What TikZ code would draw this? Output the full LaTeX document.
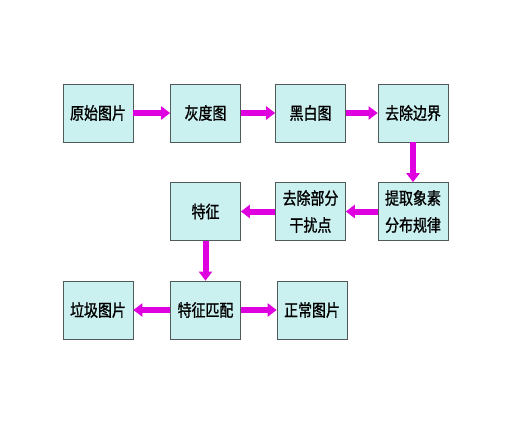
\documentclass[tikz,border=0pt]{standalone}
\usepackage{fontspec}
\setmainfont{Noto Sans CJK SC}
\newfontfamily\boxfont[FakeStretch=0.82,FakeBold=1.2]{Noto Sans CJK SC}
\usetikzlibrary{arrows.meta}
\definecolor{boxcyan}{RGB}{202,240,240}
\definecolor{boxline}{RGB}{80,90,90}
\definecolor{flowpink}{RGB}{222,0,222}

\begin{document}
\begin{tikzpicture}[x=1pt,y=-1pt,
  stage/.style={draw=boxline,line width=0.7pt,fill=boxcyan,minimum width=70pt,minimum height=58pt,
    inner sep=0pt,align=center,font=\boxfont\fontsize{17}{27}\selectfont},
  flow/.style={flowpink,line width=6pt,-{Triangle[length=9pt,width=13pt]}}]
\useasboundingbox (0,0) rectangle (516,422);
\node[stage] (orig) at (98,113) {原始图片};
\node[stage] (gray) at (205.5,113) {灰度图};
\node[stage] (bw) at (310.5,113) {黑白图};
\node[stage] (edge) at (413,113) {去除边界};
\node[stage] (dist) at (413,211.5) {提取象素\\分布规律};
\node[stage] (noise) at (310.5,211.5) {去除部分\\干扰点};
\node[stage] (feat) at (205.5,211.5) {特征};
\node[stage] (match) at (205.5,310) {特征匹配};
\node[stage] (junk) at (98,310) {垃圾图片};
\node[stage] (normal) at (312,310) {正常图片};
\draw[flow] (orig) -- (gray);
\draw[flow] (gray) -- (bw);
\draw[flow] (bw) -- (edge);
\draw[flow] (edge) -- (dist);
\draw[flow] (dist) -- (noise);
\draw[flow] (noise) -- (feat);
\draw[flow] (feat) -- (match);
\draw[flow] (match) -- (junk);
\draw[flow] (match) -- (normal);
\end{tikzpicture}
\end{document}
